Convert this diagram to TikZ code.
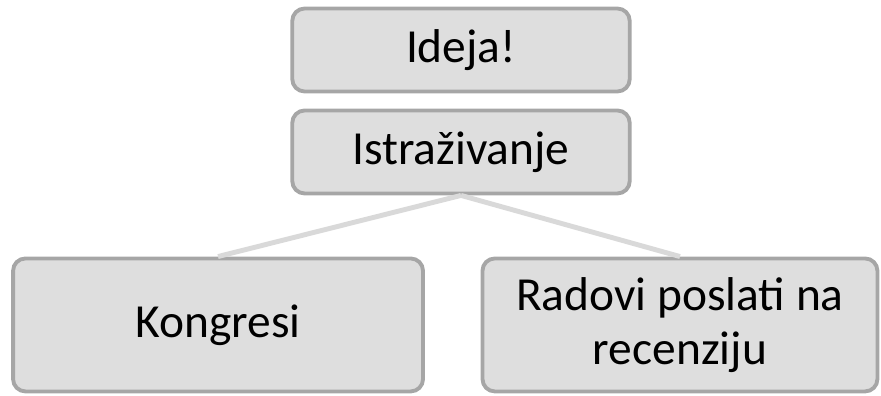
\documentclass[tikz,border=0pt]{standalone}
\usepackage{fontspec}
\setmainfont{Carlito}
\usetikzlibrary{positioning,trees}
\definecolor{boxfill}{RGB}{222,222,222}
\definecolor{boxline}{RGB}{166,166,166}
\definecolor{linkgray}{RGB}{217,217,217}
\tikzset{
  basic/.style  = {draw=boxline, fill=boxfill, line width=2.2pt, rectangle,
                   rounded corners=7pt, align=center,
                   font=\fontsize{27}{31}\selectfont},
  head/.style   = {basic, minimum width=6.75cm, minimum height=1.66cm},
  leaf/.style   = {basic, minimum height=2.66cm},
  link/.style   = {draw=linkgray, line width=2.8pt},
}
\begin{document}
\begin{tikzpicture}[x=0.02cm, y=-0.02cm,
  edge from parent/.style={draw=none},
  level 1/.style={level distance=2.04cm},
  level 2/.style={level distance=3.46cm, sibling distance=9.24cm}]

\useasboundingbox (0,0) rectangle (881,395);

% korijen
\node[head] (c0) at (461,50) {Ideja!}
  child {node[head] (c1) {Istraživanje}
        child[xshift=-0.24cm] {node[leaf, minimum width=8.2cm] (c11) {Kongresi}}
        child[xshift=-0.24cm] {node[leaf, minimum width=7.9cm] (c12) {Radovi poslati na\\ recenziju}}};

\foreach \value in {1,2}
  \draw[link] (c1.south) -- (c1\value.north);

\end{tikzpicture}
\end{document}
